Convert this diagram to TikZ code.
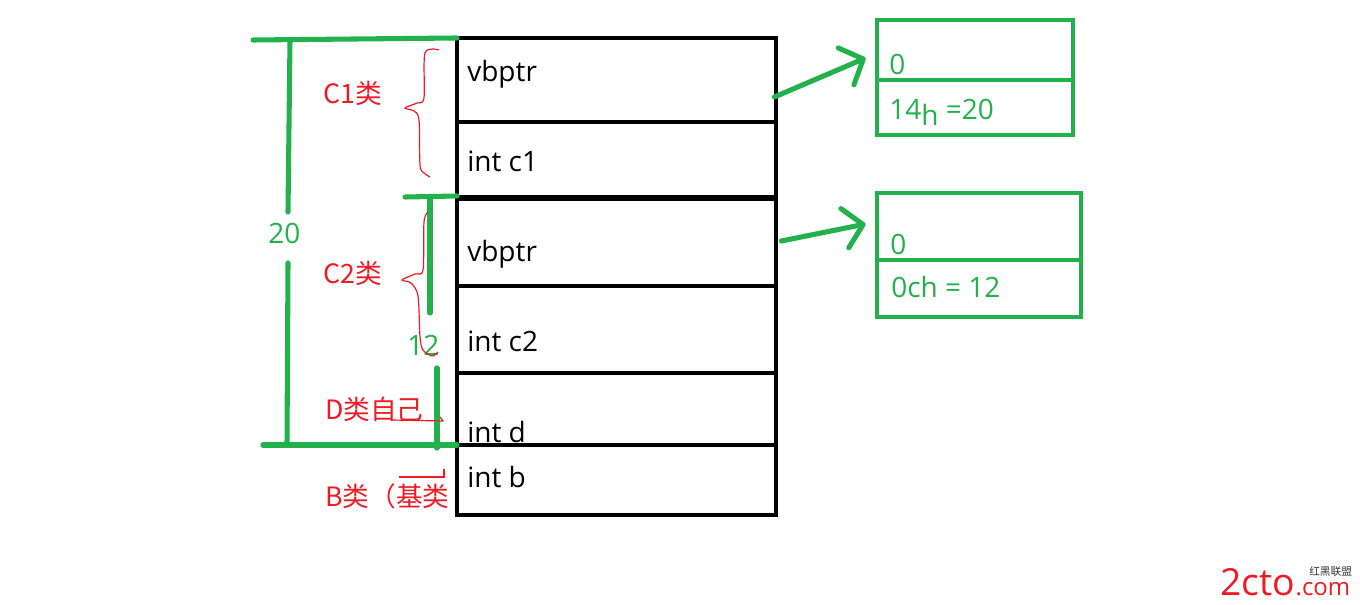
\documentclass[tikz,border=0pt]{standalone}
\usepackage{fontspec}
\setmainfont{Open Sans}
\newfontfamily\cjk{Noto Sans CJK SC}
\usepackage{xcolor}
\usetikzlibrary{arrows.meta,calc}
\definecolor{pgreen}{RGB}{34,177,76}
\definecolor{pred}{RGB}{237,28,36}
\tikzset{
  cell/.style={draw,line width=3.5pt,minimum width=239.25pt,inner sep=0pt},
  vt/.style={draw=pgreen,line width=3.6pt,inner sep=0pt},
  txt/.style={anchor=base west,inner sep=0pt,font=\fontsize{21}{24}\selectfont},
  gtxt/.style={txt,text=pgreen},
  rtxt/.style={anchor=base west,inner sep=0pt,text=pred,font=\cjk\fontsize{20}{24}\selectfont},
  gbar/.style={pgreen,line width=3.8pt,line cap=round},
  brc/.style={pred,line width=0.9pt},
  ptr/.style={pgreen,line width=3.8pt,line cap=round,-{Straight Barb[length=14pt,width=30pt,round]}}
}
\newcommand{\gl}[4]{\draw[gbar] (#1,#2) -- (#3,#4);}

\begin{document}
\begin{tikzpicture}[x=0.75pt,y=-0.75pt]
\useasboundingbox (0,0) rectangle (1360,605);
\node[cell,minimum height=63pt] (c1v) at (616.5,80) {};
\node[cell,minimum height=56.25pt] (c1i) at (616.5,159.5) {};
\node[cell,minimum height=65.25pt] (c2v) at (616.5,242.5) {};
\node[cell,minimum height=65.25pt] (c2i) at (616.5,329.5) {};
\node[cell,minimum height=54pt] (dd) at (616.5,409) {};
\node[cell,minimum height=52.5pt] (bb) at (616.5,480) {};
\node[txt] (t1) at (467,82) {vbptr};
\node[txt] (t2) at (467,172) {int c1};
\node[txt] (t3) at (467,262) {vbptr};
\node[txt] (t4) at (467,352) {int c2};
\node[txt] (t5) at (467,443) {int d};
\node[txt] (t6) at (467,488) {int b};
\node[vt,minimum width=147pt,minimum height=45pt] (vt1a) at (975,50) {};
\node[vt,minimum width=147pt,minimum height=41.25pt] (vt1b) at (975,107.5) {};
\node[vt,minimum width=153pt,minimum height=50.25pt] (vt2a) at (979,226.5) {};
\node[vt,minimum width=153pt,minimum height=42.75pt] (vt2b) at (979,288.5) {};
\node[gtxt] (z1) at (889,75) {0};
\node[gtxt] (o1) at (889,120) {14\raisebox{-4.5pt}{h} =20};
\node[gtxt] (z2) at (890,255) {0};
\node[gtxt] (o2) at (891,298) {0ch = 12};
\draw[ptr] ($(c1v.east)+(-4,17)$) -- ($(vt1a.west)+(-9,8)$);
\draw[ptr] ($(c2v.east)+(3,-1.5)$) -- ($(vt2a.west)+(-9,-2.5)$);
\gl{253}{40}{457}{38}
\gl{290}{40}{288}{212}
\gl{288}{263}{287}{445}
\gl{263}{445}{457}{445}
\gl{405}{197}{457}{196}
\gl{430}{198}{430}{313}
\gl{437}{368}{437}{448}
\node[gtxt] (n20) at (268,244) {20};
\node[gtxt] (n12) at (407,356) {12};
\draw[brc] plot[smooth,tension=0.5] coordinates {(439,50) (425,53) (424,98) (417,103) (405,108) (414,111) (419,120) (420,165) (424,173) (430,177)};
\draw[brc] plot[smooth,tension=0.5] coordinates {(428,212) (424,222) (423,270) (415,274) (402,280) (411,283) (418,296) (420,337) (423,350) (432,356) (438,352)};
\draw[brc] (392,420) -- (443,421) -- (440,417);
\draw[brc] (399,477) -- (444,477) -- (444,469);
\node[rtxt] (lc1) at (323,104) {C1类};
\node[rtxt] (lc2) at (323,284) {C2类};
\node[rtxt] (ld) at (325,420) {D类自己};
\node[rtxt] (lb) at (325,507) {B类（基类};
\node[anchor=south west,inner sep=0pt,text=pred,font=\fontsize{28}{30}\selectfont] (wm) at (1220,596) {2cto};
\node[anchor=south west,inner sep=0pt,text=pred,font=\fontsize{18}{20}\selectfont] (wmc) at (wm.south east) {.com};
\node[anchor=south west,inner sep=0pt,text=black!80,font=\cjk\fontsize{8}{9}\selectfont] (wmz) at (1309,577) {红黑联盟};
\end{tikzpicture}
\end{document}
